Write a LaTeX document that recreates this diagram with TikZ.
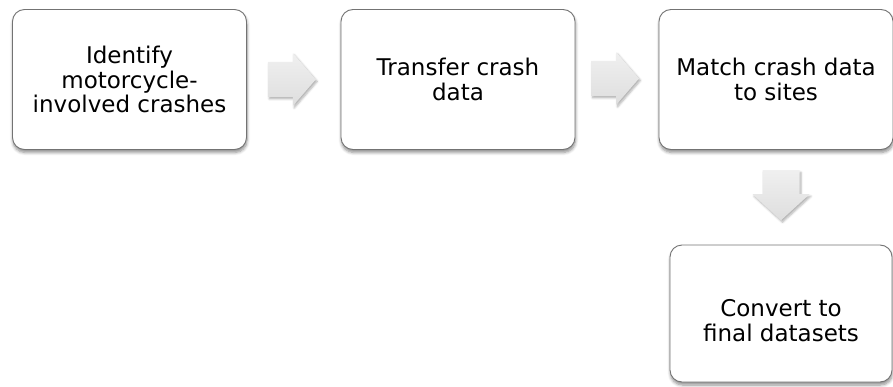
\documentclass[tikz,border=0pt]{standalone}
\usepackage{fontspec}
\setmainfont{DejaVu Sans}
\usetikzlibrary{calc,shadows.blur}
\begin{document}
\begin{tikzpicture}[x=1pt,y=-1pt,
  stepbox/.style={draw=black!55, line width=0.9pt, fill=white, rounded corners=12pt,
    minimum width=234pt, minimum height=140pt, inner sep=0pt,
    align=center, font=\fontsize{23}{24.5}\selectfont,
    blur shadow={shadow xshift=0.5pt, shadow yshift=-3pt, shadow blur steps=6, shadow blur radius=3pt, shadow opacity=45}},
  steptext/.style={align=center, font=\fontsize{23}{24.5}\selectfont, inner sep=0pt},
  blockarrow/.style={draw=none, top color=black!6, bottom color=black!13,
    blur shadow={shadow xshift=1.5pt, shadow yshift=-2pt, shadow blur steps=5, shadow blur radius=2pt, shadow opacity=30}}
]
\useasboundingbox (0,0) rectangle (893,387);
\node[stepbox] (b1) at (129.5,79.5) {Identify\\motorcycle-\\involved crashes};
\node[stepbox] (b2) at (458,79.5) {Transfer crash\\data};
\node[stepbox] (b3) at (776,79.5) {Match crash data\\to sites};
\node[stepbox, minimum width=222pt, minimum height=137pt] (b4) at (781,313.5) {};
\node[steptext] (t4) at ($(b4.center)+(0,7)$) {Convert to\\final datasets};
\coordinate (m1) at ($(b1.east)!0.5!(b2.west)+(-2,0)$);
\coordinate (m2) at ($(b2.east)!0.5!(b3.west)+(-2,-1)$);
\coordinate (m3c) at ($(b3.south)!0.5!(b4.north)+(0,-2)$);
\coordinate (m3) at (b4.north |- m3c);
\path[blockarrow, shift={(m1)}] (-24,-17.5) -- (1,-17.5) -- (1,-26.5) -- (24,0) -- (1,26.5) -- (1,17.5) -- (-24,17.5) -- cycle;
\path[blockarrow, shift={(m2)}] (-24,-17.5) -- (1,-17.5) -- (1,-26.5) -- (24,0) -- (1,26.5) -- (1,17.5) -- (-24,17.5) -- cycle;
\path[blockarrow, shift={(m3)}] (-18.5,-25) -- (18.5,-25) -- (18.5,-1) -- (28.5,-1) -- (0,25) -- (-28.5,-1) -- (-18.5,-1) -- cycle;
\end{tikzpicture}
\end{document}
